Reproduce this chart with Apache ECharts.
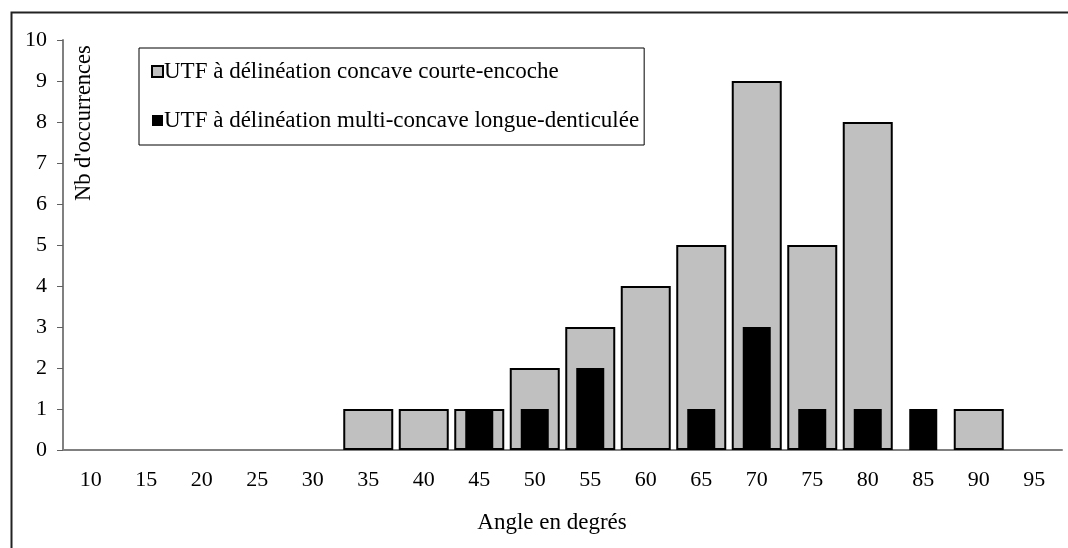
<!DOCTYPE html>
<html><head><meta charset="utf-8">
<script src="https://cdn.jsdelivr.net/npm/echarts@6/dist/echarts.min.js"></script>
<style>html,body{margin:0;padding:0;background:#fff}#c{width:1068px;height:548px}</style>
</head><body><div id="c"></div>
<script>
const categories = ['10','15','20','25','30','35','40','45','50','55','60','65','70','75','80','85','90','95'];
const concaveCourte = [0,0,0,0,0,1,1,1,2,3,4,5,9,5,8,0,1,0];
const multiConcave = [0,0,0,0,0,0,0,1,1,2,0,1,3,1,1,1,0,0];
const yTicks = [0,1,2,3,4,5,6,7,8,9,10];
const seriesNames = ['UTF à délinéation concave courte-encoche','UTF à délinéation multi-concave longue-denticulée'];
const xTitle = 'Angle en degrés';
const yTitle = "Nb d'occurrences";
const FONT = '"Liberation Serif", "Times New Roman", serif';
const chart = echarts.init(document.getElementById('c'), null, {renderer:'canvas'});
const nz = a => a.map(v => v === 0 ? null : v);
chart.setOption({
  animation:false,
  textStyle:{fontFamily:FONT},
  grid:{left:63,right:6,top:40,bottom:98},
  legend:{
    orient:'vertical', left:139, top:48,
    padding:[12,5,13,12], itemGap:26,
    borderColor:'#000', borderWidth:1,
    itemWidth:11, itemHeight:11, icon:'rect',
    textStyle:{fontFamily:FONT,fontSize:23,color:'#000',padding:[0,0,0,-4]},
    data:seriesNames
  },
  xAxis:[{
    type:'category', data:categories,
    axisLine:{lineStyle:{color:'#808080',width:2}},
    axisTick:{length:7,lineStyle:{color:'#606060',width:1}},
    axisLabel:{fontFamily:FONT,fontSize:22,color:'#000',margin:19}
  },{
    type:'category', data:categories, show:false
  }],
  yAxis:{
    type:'value', min:0, max:10, interval:1,
    axisLine:{show:true,lineStyle:{color:'#808080',width:2}},
    axisTick:{show:true,length:6,lineStyle:{color:'#606060'}},
    splitLine:{show:false},
    axisLabel:{fontFamily:FONT,fontSize:22,color:'#000',margin:16,
      formatter:v => yTicks.includes(v) ? String(v) : ''}
  },
  graphic:[
    {type:'rect',left:9,top:10,shape:{width:1100,height:600},style:{fill:'none',stroke:'#222',lineWidth:2},silent:true,z:-1},
    {type:'text',x:73,y:201,rotation:Math.PI/2,style:{text:yTitle,font:'22.5px '+FONT,fill:'#000',textAlign:'left',textVerticalAlign:'top'}},
    {type:'text',x:552,y:523,style:{text:xTitle,font:'23px '+FONT,fill:'#000',textAlign:'center',textVerticalAlign:'middle'}}
  ],
  series:[{
    name:seriesNames[0], type:'bar', xAxisIndex:0, data:nz(concaveCourte),
    barWidth:50,
    itemStyle:{color:'#c0c0c0',borderColor:'#000',borderWidth:2}
  },{
    name:seriesNames[1], type:'bar', xAxisIndex:1, data:nz(multiConcave),
    barWidth:28, z:3,
    itemStyle:{color:'#000'}
  }]
});
</script></body></html>
